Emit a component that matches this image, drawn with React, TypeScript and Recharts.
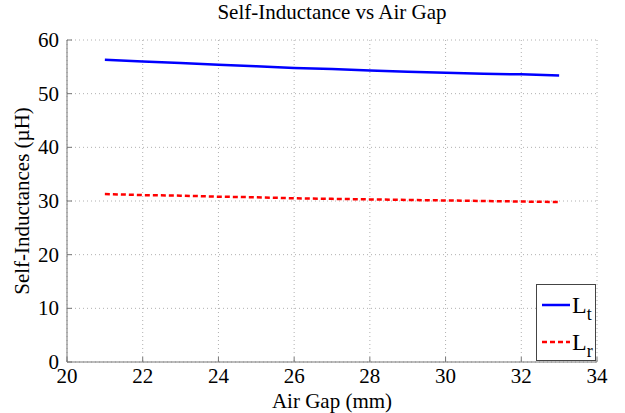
import React from 'react';
import { LineChart, Line, XAxis, YAxis, CartesianGrid } from 'recharts';

const airGap = [21, 22, 23, 24, 25, 26, 27, 28, 29, 30, 31, 32, 33];
const ltValues = [56.3, 56.0, 55.7, 55.4, 55.1, 54.8, 54.6, 54.3, 54.1, 53.9, 53.7, 53.6, 53.4];
const lrValues = [31.3, 31.1, 31.0, 30.8, 30.7, 30.5, 30.4, 30.3, 30.2, 30.1, 30.0, 29.9, 29.8];
const xTicks = [20, 22, 24, 26, 28, 30, 32, 34];
const yTicks = [0, 10, 20, 30, 40, 50, 60];

const series = [
  { key: 'lt', base: 'L', sub: 't', color: '#0000ff', dash: undefined as string | undefined },
  { key: 'lr', base: 'L', sub: 'r', color: '#ff0000', dash: '5 3' },
];

const data = airGap.map((x, i) => ({ x, lt: ltValues[i], lr: lrValues[i] }));

const font = 'Liberation Serif, Times New Roman, serif';
const axisColor = '#777';

// ticks point inward, so the label positions are offset by hand
const XTick = ({ x, y, payload }: any) => (
  <text x={x} y={y + 26} textAnchor="middle" style={{ fontFamily: font, fontSize: 21, fill: '#000' }}>
    {payload.value}
  </text>
);

const YTick = ({ x, y, payload }: any) => (
  <text x={x - 13} y={y + 7} textAnchor="end" style={{ fontFamily: font, fontSize: 21, fill: '#000' }}>
    {payload.value}
  </text>
);

const App: React.FC = () => {
  return (
    <div style={{ position: 'absolute', left: 0, top: 0, width: 625, height: 413, background: '#fff', fontFamily: font }}>
      <div style={{ position: 'absolute', top: 0, left: 67, width: 530, textAlign: 'center', fontSize: 21, color: '#000', fontFamily: font }}>
        Self-Inductance vs Air Gap
      </div>
      <LineChart width={625} height={413} data={data} margin={{ top: 40, right: 28, bottom: 0, left: 0 }} style={{ fontFamily: font }}>
        <CartesianGrid stroke="#b0b0b0" strokeDasharray="1 3" />
        <XAxis
          dataKey="x"
          type="number"
          domain={[20, 34]}
          ticks={xTicks}
          height={51}
          stroke={axisColor}
          tickSize={-5}
          tickMargin={0}
          tick={<XTick />}
          label={{ value: 'Air Gap (mm)', position: 'insideBottom', offset: 5, style: { fontFamily: font, fontSize: 21, fill: '#000' } }}
        />
        <XAxis xAxisId="top" orientation="top" dataKey="x" type="number" domain={[20, 34]} ticks={xTicks} height={0} stroke={axisColor} tickSize={-5} tickFormatter={() => ''} />
        <YAxis
          type="number"
          domain={[0, 60]}
          ticks={yTicks}
          width={67}
          stroke={axisColor}
          tickSize={-5}
          tickMargin={0}
          tick={<YTick />}
          label={{ value: 'Self-Inductances (\u00b5H)', angle: -90, position: 'insideLeft', offset: 22, style: { textAnchor: 'middle', fontFamily: font, fontSize: 21, fill: '#000' } }}
        />
        <YAxis yAxisId="right" orientation="right" type="number" domain={[0, 60]} ticks={yTicks} width={0} stroke={axisColor} tickSize={-5} tickFormatter={() => ''} />
        {series.map(s => (
          <Line
            key={s.key}
            dataKey={s.key}
            stroke={s.color}
            strokeWidth={2.5}
            strokeDasharray={s.dash}
            dot={false}
            type="linear"
            isAnimationActive={false}
          />
        ))}
      </LineChart>
      <div
        style={{
          position: 'absolute',
          left: 536,
          top: 284,
          width: 60,
          height: 77,
          border: '1px solid #444',
          boxSizing: 'border-box',
          background: '#fff',
        }}
      >
        {series.map((s, i) => (
          <div key={s.key} style={{ position: 'absolute', left: 4, top: 6 + i * 37, height: 28, display: 'flex', alignItems: 'center' }}>
            <svg width={30} height={6}>
              <line x1={1} y1={3} x2={29} y2={3} stroke={s.color} strokeWidth={2.5} strokeDasharray={s.dash} />
            </svg>
            <span style={{ fontSize: 24, color: '#000', marginLeft: 1, lineHeight: 1, fontFamily: font }}>
              {s.base}
              <span style={{ fontSize: 18, position: 'relative', top: 7 }}>{s.sub}</span>
            </span>
          </div>
        ))}
      </div>
    </div>
  );
};

export default App;
